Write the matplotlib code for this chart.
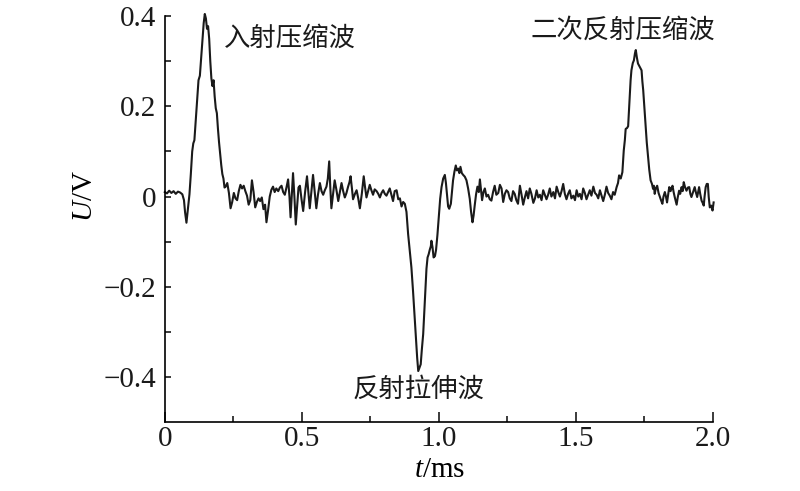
import matplotlib
matplotlib.use("Agg")
import matplotlib.pyplot as plt
import numpy as np

# ------------------------------------------------------------------------------
# Data (t in ms, U in V)
# ------------------------------------------------------------------------------

# quiet lead-in
t_pre = [0.000, 0.008, 0.016, 0.024, 0.032, 0.040, 0.048, 0.056, 0.064, 0.070]
u_pre = [0.010, 0.007, 0.013, 0.008, 0.012, 0.006, 0.011, 0.009, 0.005, -0.008]

# incident compression wave
t_inc = [0.074, 0.079, 0.084, 0.090, 0.095, 0.100, 0.104, 0.108, 0.113, 0.118,
         0.123, 0.128, 0.133, 0.138, 0.142, 0.146, 0.150, 0.154, 0.158, 0.162,
         0.166, 0.170, 0.174, 0.178, 0.182, 0.186, 0.190, 0.194, 0.198, 0.202,
         0.206, 0.210, 0.214, 0.218]
u_inc = [-0.035, -0.058, -0.030, 0.005, 0.050, 0.100, 0.118, 0.125, 0.170, 0.215,
         0.258, 0.268, 0.310, 0.355, 0.385, 0.405, 0.395, 0.372, 0.378, 0.350,
         0.300, 0.262, 0.245, 0.258, 0.222, 0.196, 0.185, 0.150, 0.120, 0.095,
         0.070, 0.050, 0.040, 0.020]

# noise between incident and reflected wave
t_mid = [0.222, 0.228, 0.234, 0.240, 0.246, 0.252, 0.258, 0.264, 0.270, 0.276,
         0.282, 0.288, 0.294, 0.300, 0.306, 0.312, 0.318, 0.324, 0.330, 0.336,
         0.342, 0.348, 0.354, 0.360, 0.366, 0.371, 0.377, 0.383, 0.389, 0.395,
         0.401, 0.407, 0.414, 0.420, 0.426, 0.432, 0.438, 0.444, 0.450, 0.455,
         0.459, 0.464, 0.468, 0.473, 0.478, 0.483, 0.488, 0.493, 0.499, 0.505,
         0.512, 0.519, 0.524, 0.529, 0.535, 0.541, 0.547, 0.553, 0.559, 0.566,
         0.572, 0.578, 0.584, 0.590, 0.595, 0.600, 0.604, 0.608, 0.614, 0.620,
         0.626, 0.633, 0.639, 0.645, 0.651, 0.657, 0.663, 0.669, 0.674, 0.678,
         0.683, 0.687, 0.694, 0.700, 0.706, 0.712, 0.719, 0.726, 0.731, 0.736,
         0.742, 0.748, 0.754, 0.760, 0.766, 0.773, 0.779, 0.785, 0.791, 0.797,
         0.803, 0.809, 0.815, 0.821, 0.827, 0.833, 0.839, 0.846, 0.852, 0.858,
         0.864, 0.870, 0.876, 0.882]
u_mid = [0.022, 0.030, 0.008, -0.026, -0.012, 0.008, -0.004, -0.008, 0.012, 0.026,
         0.018, 0.024, 0.012, 0.002, -0.018, -0.008, 0.036, 0.010, -0.024, -0.012,
         -0.004, -0.010, -0.002, -0.028, -0.018, -0.057, -0.030, 0.000, 0.015, 0.022,
         0.010, 0.018, 0.012, 0.020, 0.024, 0.010, 0.004, 0.020, 0.038, 0.000,
         -0.046, 0.010, 0.052, 0.000, -0.062, -0.020, 0.020, 0.024, -0.006, -0.032,
         0.010, 0.045, 0.010, -0.026, 0.010, 0.048, 0.010, -0.026, 0.004, 0.030,
         0.012, 0.004, 0.014, 0.022, 0.040, 0.078, 0.020, -0.026, 0.004, 0.036,
         0.016, -0.010, 0.010, 0.030, 0.012, -0.002, 0.008, 0.022, 0.032, 0.045,
         0.018, -0.006, 0.006, 0.014, -0.004, -0.026, 0.006, 0.045, 0.020, -0.002,
         0.012, 0.026, 0.014, 0.004, 0.016, 0.012, 0.006, -0.002, 0.008, 0.014,
         0.006, 0.002, 0.010, 0.018, 0.004, -0.010, 0.012, 0.014, -0.006, -0.004,
         -0.022, -0.012, -0.016, -0.034]

# reflected tension wave
t_ref = [0.888, 0.894, 0.900, 0.906, 0.912, 0.917, 0.921, 0.925, 0.929, 0.934,
         0.938, 0.943, 0.947, 0.951, 0.955, 0.959, 0.963, 0.967, 0.971, 0.973,
         0.977, 0.981, 0.986, 0.990, 0.995, 1.000, 1.005, 1.010, 1.016, 1.022,
         1.026, 1.030, 1.034, 1.038, 1.044, 1.048, 1.052, 1.057, 1.062, 1.066,
         1.071, 1.075, 1.079, 1.084, 1.089, 1.095, 1.101, 1.107, 1.113, 1.118,
         1.123, 1.127, 1.131, 1.136, 1.141, 1.146, 1.150, 1.154, 1.158, 1.163,
         1.168, 1.174, 1.180, 1.186, 1.192, 1.198, 1.204, 1.210, 1.217, 1.223,
         1.229, 1.235, 1.241, 1.247, 1.253, 1.259, 1.265, 1.271, 1.277, 1.283,
         1.289]
u_ref = [-0.083, -0.120, -0.157, -0.210, -0.268, -0.320, -0.357, -0.387, -0.380, -0.372,
         -0.340, -0.305, -0.255, -0.209, -0.160, -0.135, -0.128, -0.118, -0.110, -0.098,
         -0.112, -0.135, -0.132, -0.118, -0.085, -0.046, -0.005, 0.021, 0.040, 0.048,
         0.030, 0.005, -0.022, -0.027, -0.016, 0.010, 0.036, 0.055, 0.069, 0.058,
         0.062, 0.052, 0.066, 0.052, 0.048, 0.044, 0.036, 0.018, -0.005, -0.035,
         -0.057, -0.042, -0.020, 0.005, 0.022, 0.010, 0.038, 0.014, -0.008, 0.010,
         0.018, 0.000, 0.004, -0.006, -0.009, 0.010, 0.024, 0.004, 0.008, 0.026,
         0.018, -0.012, 0.006, 0.014, 0.010, -0.004, -0.010, 0.012, 0.006, -0.008,
         -0.016]

# noise before the second compression wave
t_tail = [1.296, 1.302, 1.308, 1.314, 1.320, 1.326, 1.332, 1.338, 1.345, 1.351,
          1.357, 1.363, 1.369, 1.375, 1.381, 1.387, 1.393, 1.399, 1.405, 1.411,
          1.418, 1.424, 1.430, 1.436, 1.442, 1.448, 1.454, 1.460, 1.466, 1.472,
          1.478, 1.484, 1.491, 1.497, 1.503, 1.509, 1.515, 1.521, 1.527, 1.533,
          1.539, 1.545, 1.551, 1.557, 1.564, 1.570, 1.576, 1.582, 1.588, 1.594,
          1.600, 1.606, 1.612, 1.618, 1.624]
u_tail = [0.024, 0.004, -0.018, -0.002, 0.012, -0.004, 0.018, 0.006, -0.014, -0.004,
          0.014, -0.002, 0.004, -0.008, 0.014, 0.004, -0.006, 0.004, 0.018, 0.000,
          0.010, -0.004, 0.022, 0.010, 0.000, 0.012, 0.028, 0.006, -0.006, 0.006,
          0.014, -0.004, 0.002, -0.008, 0.014, 0.000, 0.006, -0.006, 0.018, 0.008,
          -0.006, 0.004, 0.014, 0.002, 0.022, 0.008, 0.004, -0.004, 0.014, 0.002,
          -0.010, 0.004, 0.022, 0.008, 0.002]

# second reflected compression wave and end noise
t_sec = [1.630, 1.636, 1.642, 1.649, 1.654, 1.658, 1.664, 1.670, 1.675, 1.679,
         1.682, 1.687, 1.691, 1.694, 1.697, 1.700, 1.703, 1.708, 1.712, 1.716,
         1.719, 1.723, 1.727, 1.733, 1.740, 1.743, 1.746, 1.750, 1.754, 1.759,
         1.764, 1.768, 1.773, 1.778, 1.782, 1.785, 1.788, 1.792, 1.797, 1.802,
         1.807, 1.811, 1.816, 1.820, 1.825, 1.829, 1.833, 1.837, 1.841, 1.846,
         1.850, 1.853, 1.857, 1.861, 1.864, 1.868, 1.872, 1.877, 1.881, 1.886,
         1.890, 1.894, 1.899, 1.904, 1.909, 1.914, 1.918, 1.922, 1.927, 1.934,
         1.938, 1.943, 1.946, 1.950, 1.954, 1.959, 1.963, 1.967, 1.970, 1.974,
         1.978, 1.982, 1.985, 1.989, 1.994, 1.999, 2.003]
u_sec = [-0.006, 0.010, 0.004, 0.021, 0.030, 0.047, 0.040, 0.054, 0.102, 0.125,
         0.150, 0.152, 0.156, 0.190, 0.228, 0.258, 0.280, 0.296, 0.302, 0.318,
         0.325, 0.308, 0.295, 0.288, 0.280, 0.255, 0.236, 0.200, 0.162, 0.120,
         0.087, 0.060, 0.036, 0.028, 0.017, 0.024, 0.006, 0.018, 0.024, 0.008,
         -0.001, -0.008, -0.016, 0.000, 0.010, 0.000, -0.013, 0.004, 0.021, 0.012,
         0.020, 0.024, 0.010, -0.001, -0.008, -0.018, -0.002, 0.013, 0.006, 0.021,
         0.012, 0.032, 0.020, 0.013, 0.020, 0.021, 0.006, -0.001, 0.008, 0.021,
         0.010, -0.001, 0.008, 0.021, 0.006, -0.009, -0.014, -0.020, 0.000, 0.021,
         0.028, 0.028, 0.000, -0.024, -0.020, -0.031, -0.013]

x_ticks = [0, 0.5, 1.0, 1.5, 2.0]
x_labels = ["0", "0.5", "1.0", "1.5", "2.0"]
y_ticks = [-0.4, -0.2, 0, 0.2, 0.4]
y_labels = ["\u22120.4", "\u22120.2", "0", "0.2", "0.4"]

# ------------------------------------------------------------------------------
# Plot
# ------------------------------------------------------------------------------

plt.rcParams["font.family"] = ["Liberation Serif", "Noto Sans CJK SC"]
plt.rcParams["mathtext.fontset"] = "custom"
plt.rcParams["mathtext.rm"] = "Liberation Serif"
plt.rcParams["mathtext.it"] = "Liberation Serif:italic"

t = np.concatenate([t_pre, t_inc, t_mid, t_ref, t_tail, t_sec])
u = np.concatenate([u_pre, u_inc, u_mid, u_ref, u_tail, u_sec])

fig = plt.figure(figsize=(8, 4.91), dpi=100)
ax = fig.add_axes([0.206, 0.1405, 0.685, 0.8265])

ax.plot(t, u, color="#1a1a1a", linewidth=1.5, clip_on=False)

ax.set_xlim(0, 2.0)
ax.set_ylim(-0.5, 0.4)
ax.spines["top"].set_visible(False)
ax.spines["right"].set_visible(False)
for side in ["left", "bottom"]:
    ax.spines[side].set_linewidth(1.2)

ax.set_xticks(x_ticks)
ax.set_xticklabels(x_labels)
ax.set_xticks([0.25, 0.75, 1.25, 1.75], minor=True)
ax.set_yticks(y_ticks)
ax.set_yticklabels(y_labels)
ax.set_yticks([-0.3, -0.1, 0.1, 0.3], minor=True)
ax.tick_params(axis="both", which="both", direction="in", width=1.2,
               labelsize=21, colors="#1a1a1a")
ax.tick_params(axis="x", which="major", length=7.5, pad=3)
ax.tick_params(axis="x", which="minor", length=4.5)
ax.tick_params(axis="y", which="both", length=4.5, pad=6)

ax.set_xlabel(r"$\it{t}$/ms", fontsize=21)
ax.set_ylabel(r"$\it{U}$/V", fontsize=21)
ax.xaxis.set_label_coords(0.502, -0.085)
ax.yaxis.set_label_coords(-0.122, 0.557)

cjk = ["Noto Sans CJK SC", "DejaVu Sans"]
ax.text(0.456, 0.351, "入射压缩波", family=cjk, fontsize=19,
        ha="center", va="center", color="#1a1a1a")
ax.text(1.672, 0.369, "二次反射压缩波", family=cjk, fontsize=19,
        ha="center", va="center", color="#1a1a1a")
ax.text(0.927, -0.427, "反射拉伸波", family=cjk, fontsize=19,
        ha="center", va="center", color="#1a1a1a")

fig.savefig("out.png", dpi=100)
